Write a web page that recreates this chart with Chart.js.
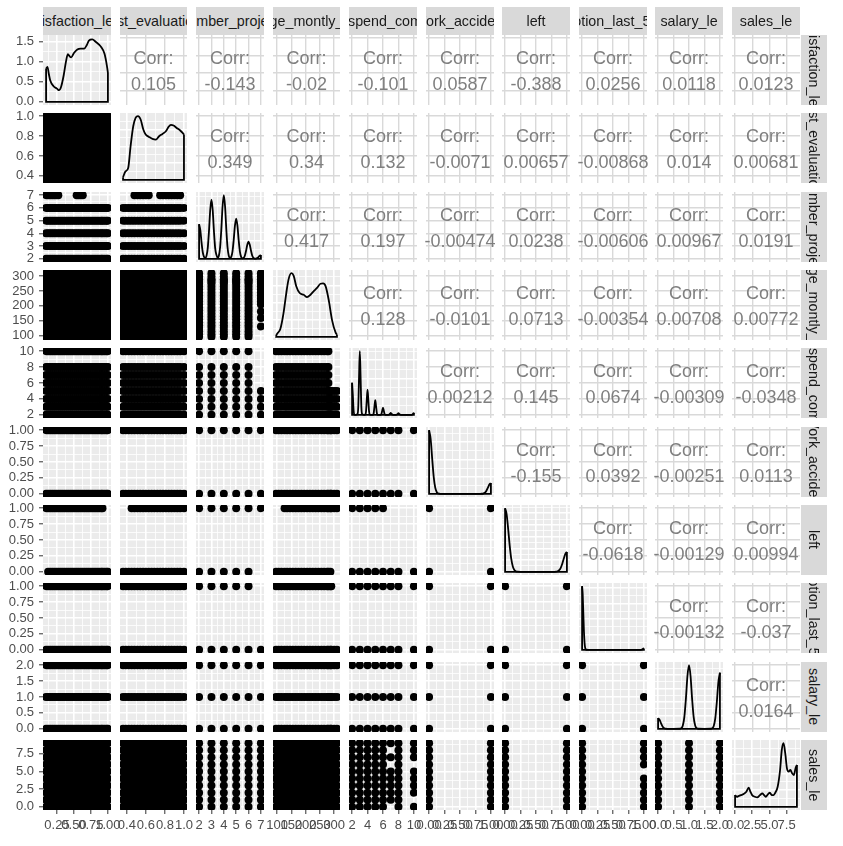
<!DOCTYPE html>
<html><head><meta charset="utf-8">
<script src="https://cdn.jsdelivr.net/npm/chart.js@4.4.1/dist/chart.umd.min.js"></script>
<style>
html,body{margin:0;padding:0;background:#fff;}
#wrap{position:relative;width:843px;height:846px;overflow:hidden;background:#fff;font-family:"Liberation Sans",Arial,sans-serif;}
canvas{position:absolute;}
.strip{position:absolute;background:#D9D9D9;overflow:hidden;display:flex;align-items:center;justify-content:center;color:#1A1A1A;font-size:14.3px;white-space:nowrap;}
.strip span{flex:none;}
.rstrip span{writing-mode:vertical-rl;}
.corr{position:absolute;display:flex;flex-direction:column;align-items:center;justify-content:center;color:#7F7F7F;font-size:18px;line-height:26px;white-space:nowrap;padding-top:2px;box-sizing:border-box;}
</style></head><body><div id="wrap"></div>
<script>
// ---------------- data ----------------
const varNames = ["satisfaction_level","last_evaluation","number_project","average_montly_hours","time_spend_company","Work_accident","left","promotion_last_5years","salary_le","sales_le"];
const varMin = [0.09, 0.36, 2, 96, 2, 0, 0, 0, 0, 0];
const varMax = [1.00, 1.00, 7, 310, 10, 1, 1, 1, 2, 9];
const varTicks = [
  [0.25,0.5,0.75,1.0],
  [0.4,0.6,0.8,1.0],
  [2,3,4,5,6,7],
  [100,150,200,250,300],
  [2,4,6,8,10],
  [0,0.25,0.5,0.75,1],
  [0,0.25,0.5,0.75,1],
  [0,0.25,0.5,0.75,1],
  [0,0.5,1,1.5,2],
  [0,2.5,5,7.5]
];
const tickDecimals = [2,1,0,0,0,2,2,2,1,1];

// observed value levels of each variable
const satLevels = [0.09,0.12,0.15,0.18,0.21,0.24,0.27,0.30,0.33,0.36,0.39,0.42,0.45,0.48,0.51,0.54,0.57,0.60,0.63,0.66,0.69,0.72,0.75,0.78,0.81,0.84,0.87,0.90,0.92,0.95,0.98,1.00];
const evalLevels = [0.36,0.39,0.42,0.45,0.48,0.51,0.54,0.57,0.60,0.63,0.66,0.69,0.72,0.75,0.78,0.81,0.84,0.87,0.90,0.93,0.96,1.00];
const projectLevels = [2,3,4,5,6,7];
const hoursLevels = [96,105,115,126,135,145,155,165,175,185,195,205,215,225,235,245,255,265,275,280,287,290,300,310];
const timeLevels = [2,3,4,5,6,7,8,10];
const binaryLevels = [0,1];
const salaryLevels = [0,1,2];
const salesLevels = [0,1,2,3,4,5,6,7,8,9];
const levels = [satLevels, evalLevels, projectLevels, hoursLevels, timeLevels, binaryLevels, binaryLevels, binaryLevels, salaryLevels, salesLevels];

// where a pair of variables does not cover every combination
const panelRules = [
  {row:2,col:0,fix:'y',at:7,keep:[[0.09,0.28],[0.53,0.65]]},
  {row:2,col:1,fix:'y',at:7,keep:[[0.46,0.63],[0.74,0.97]]},
  {row:3,col:2,fix:'x',at:7,keep:[[200,310]]},
  {row:4,col:2,fix:'y',at:10,keep:[[2,6]]},
  {row:4,col:2,fix:'x',at:7,keep:[[2,5]]},
  {row:4,col:3,fix:'y',at:6,keep:[[96,280]]},
  {row:4,col:3,fix:'y',at:7,keep:[[96,280]]},
  {row:4,col:3,fix:'y',at:8,keep:[[96,280]]},
  {row:4,col:3,fix:'y',at:10,keep:[[96,280]]},
  {row:6,col:0,fix:'y',at:1,keep:[[0.09,0.92]]},
  {row:6,col:0,fix:'y',at:0,keep:[[0.12,1.0]]},
  {row:6,col:1,fix:'y',at:1,keep:[[0.45,1.0]]},
  {row:6,col:2,fix:'y',at:0,keep:[[2,6]]},
  {row:6,col:3,fix:'y',at:1,keep:[[126,310]]},
  {row:6,col:3,fix:'y',at:0,keep:[[96,287]]},
  {row:6,col:4,fix:'y',at:1,keep:[[2,6]]},
  {row:7,col:2,fix:'y',at:1,keep:[[2,6]]},
  {row:7,col:3,fix:'y',at:1,keep:[[96,290]]},
  {row:9,col:4,fix:'x',at:7,keep:[[1,5],[7,7],[9,9]]},
  {row:9,col:4,fix:'x',at:10,keep:[[0,0],[2,5],[7,9]]},
  {row:9,col:7,fix:'x',at:1,keep:[[0,4],[6,9]]}
];
const extraPoints = [{row:3,col:2,pts:[[7,181],[7,159],[7,131]]}];

// density curves on the diagonal  [x, density]
const densSat = [[0.09,0.83],[0.11,0.875],[0.13,0.70],[0.15,0.54],[0.20,0.39],[0.25,0.33],[0.28,0.29],[0.31,0.37],[0.35,0.67],[0.38,0.98],[0.41,1.19],[0.44,1.13],[0.46,1.11],[0.50,1.22],[0.55,1.31],[0.60,1.33],[0.65,1.33],[0.69,1.42],[0.72,1.53],[0.77,1.56],[0.82,1.50],[0.90,1.37],[0.95,1.20],[0.99,0.85],[1.0,0.72]];
const densEval = [[0.36,0.08],[0.386,0.25],[0.414,0.35],[0.439,1.0],[0.467,1.6],[0.492,1.85],[0.517,1.9],[0.545,1.8],[0.573,1.5],[0.598,1.35],[0.633,1.28],[0.669,1.22],[0.704,1.2],[0.739,1.3],[0.774,1.37],[0.81,1.45],[0.838,1.58],[0.863,1.64],[0.891,1.62],[0.923,1.55],[0.958,1.48],[0.986,1.40],[1.0,1.35]];
const densProject = [[2,0.39],[2.1,0.322],[2.2,0.182],[2.3,0.071],[2.4,0.022],[2.5,0.009],[2.6,0.034],[2.7,0.12],[2.8,0.311],[2.9,0.549],[3,0.665],[3.1,0.549],[3.2,0.311],[3.3,0.121],[3.4,0.045],[3.5,0.012],[3.6,0.035],[3.7,0.13],[3.8,0.335],[3.9,0.591],[4,0.716],[4.1,0.591],[4.2,0.335],[4.3,0.13],[4.4,0.035],[4.5,0.01],[4.6,0.022],[4.7,0.082],[4.8,0.212],[4.9,0.374],[5,0.453],[5.1,0.374],[5.2,0.212],[5.3,0.082],[5.4,0.022],[5.5,0.006],[5.6,0.01],[5.7,0.035],[5.8,0.09],[5.9,0.159],[6,0.193],[6.1,0.159],[6.2,0.09],[6.3,0.035],[6.4,0.01],[6.5,0.002],[6.6,0.002],[6.7,0.008],[6.8,0.02],[6.9,0.035],[7,0.042]];
const densHours = [[96,0.02],[99,0.08],[111,0.23],[122,0.68],[132,1.28],[140,1.68],[150,1.86],[158,1.78],[167,1.48],[179,1.28],[193,1.23],[205,1.16],[217,1.23],[228,1.33],[240,1.43],[252,1.55],[261,1.56],[270,1.48],[281,1.08],[293,0.48],[305,0.13],[310,0.06]];
const densTime = [[2,0.88],[2.1,0.52],[2.2,0.11],[2.3,0.01],[2.5,0],[2.7,0.02],[2.8,0.22],[2.9,1.04],[3,1.75],[3.1,1.04],[3.2,0.22],[3.3,0.02],[3.5,0],[3.7,0.01],[3.8,0.09],[3.9,0.41],[4,0.69],[4.1,0.41],[4.2,0.09],[4.3,0.01],[4.5,0],[4.7,0],[4.8,0.05],[4.9,0.24],[5,0.40],[5.1,0.24],[5.2,0.05],[5.3,0],[5.5,0],[5.7,0],[5.8,0.025],[5.9,0.115],[6,0.195],[6.1,0.115],[6.2,0.025],[6.3,0],[6.5,0],[6.7,0],[6.8,0.006],[6.9,0.03],[7,0.05],[7.1,0.03],[7.2,0.006],[7.3,0],[7.5,0],[7.7,0],[7.8,0.006],[7.9,0.027],[8,0.045],[8.1,0.027],[8.2,0.006],[8.3,0],[9,0],[9.7,0],[9.8,0.007],[9.9,0.034],[10,0.057]];
const densAccident = [[0,7.4],[0.025,6.39],[0.05,4.1],[0.075,1.95],[0.1,0.70],[0.125,0.185],[0.15,0.037],[0.175,0.005],[0.25,0],[0.5,0],[0.75,0],[0.825,0.001],[0.85,0.006],[0.875,0.031],[0.9,0.118],[0.925,0.33],[0.95,0.69],[0.975,1.08],[1,1.25]];
const densLeft = [[0,5.43],[0.025,4.91],[0.05,3.64],[0.075,2.22],[0.1,1.10],[0.125,0.45],[0.15,0.15],[0.175,0.04],[0.2,0.01],[0.25,0],[0.5,0],[0.75,0],[0.8,0.003],[0.825,0.013],[0.85,0.048],[0.875,0.14],[0.9,0.345],[0.925,0.69],[0.95,1.14],[0.975,1.54],[1,1.70]];
const densPromotion = [[0,20.65],[0.01,17.9],[0.02,11.8],[0.03,5.86],[0.04,2.2],[0.05,0.62],[0.06,0.13],[0.07,0.02],[0.1,0],[0.5,0],[0.9,0],[0.94,0.003],[0.95,0.014],[0.96,0.048],[0.97,0.128],[0.98,0.257],[0.99,0.39],[1,0.45]];
const densSalary = [[0,0.40],[0.05,0.332],[0.1,0.19],[0.15,0.075],[0.2,0.02],[0.25,0.004],[0.3,0],[0.5,0],[0.7,0.003],[0.75,0.023],[0.8,0.121],[0.85,0.446],[0.9,1.126],[0.95,1.967],[1,2.37],[1.05,1.967],[1.1,1.126],[1.15,0.446],[1.2,0.121],[1.25,0.023],[1.3,0.003],[1.5,0],[1.7,0.0025],[1.75,0.02],[1.8,0.107],[1.85,0.393],[1.9,0.993],[1.95,1.735],[2,2.09]];
const densSales = [[0,0.35],[0.25,0.30],[0.5,0.32],[0.84,0.35],[1.24,0.38],[1.64,0.45],[1.98,0.57],[2.23,0.45],[2.48,0.35],[2.88,0.30],[3.22,0.28],[3.62,0.35],[3.97,0.40],[4.22,0.35],[4.46,0.30],[4.81,0.38],[5.06,0.42],[5.36,0.35],[5.61,0.35],[5.85,0.42],[6.2,0.60],[6.55,1.10],[6.8,1.70],[7.05,1.90],[7.3,1.60],[7.55,1.15],[7.8,1.05],[8.05,1.10],[8.3,1.00],[8.55,0.95],[8.8,1.15],[9.0,1.25]];
const densities = [densSat, densEval, densProject, densHours, densTime, densAccident, densLeft, densPromotion, densSalary, densSales];
const densTop = [1.59, 1.9, 0.716, 1.86, 1.75, 7.4, 5.43, 20.65, 2.37, 1.9];
const densTicks = [[0,0.5,1,1.5],[0,0.5,1,1.5],[0,0.2,0.4,0.6],[0,0.5,1,1.5],[0,0.5,1,1.5],[0,2,4,6],[0,1,2,3,4,5],[0,5,10,15,20],[0,0.5,1,1.5,2],[0,0.5,1,1.5]];

// correlations (upper triangle, row by row)
const corrSat = [0.105,-0.143,-0.02,-0.101,0.0587,-0.388,0.0256,0.0118,0.0123];
const corrEval = [0.349,0.34,0.132,-0.0071,0.00657,-0.00868,0.014,0.00681];
const corrProject = [0.417,0.197,-0.00474,0.0238,-0.00606,0.00967,0.0191];
const corrHours = [0.128,-0.0101,0.0713,-0.00354,0.00708,0.00772];
const corrTime = [0.00212,0.145,0.0674,-0.00309,-0.0348];
const corrAccident = [-0.155,0.0392,-0.00251,0.0113];
const corrLeft = [-0.0618,-0.00129,0.00994];
const corrPromotion = [-0.00132,-0.037];
const corrSalary = [0.0164];
const corrRows = [corrSat, corrEval, corrProject, corrHours, corrTime, corrAccident, corrLeft, corrPromotion, corrSalary];

// ---------------- layout ----------------
const N = 10;
const X0 = 43, DX = 76.55, PW = 67.8, Y0 = 35, DY = 78.33, PH = 70, M = 16;
const FULL_W = 843, FULL_H = 846;
const colL = j => Math.round(X0 + j*DX), colR = j => Math.round(X0 + j*DX + PW);
const rowT = i => Math.round(Y0 + i*DY), rowB = i => Math.round(Y0 + i*DY + PH);
const FONT = '"Liberation Sans", Arial, sans-serif';
const wrap = document.getElementById('wrap');

const bgPlugin = {
  id: 'panelBg',
  beforeDraw(chart, args, opts) {
    const a = chart.chartArea, c = chart.ctx;
    c.save(); c.fillStyle = opts.color;
    c.fillRect(a.left, a.top, a.right - a.left, a.bottom - a.top);
    c.restore();
  }
};

function varRange(v) { const d = (varMax[v] - varMin[v]) * 0.05; return [varMin[v] - d, varMax[v] + d]; }

function makeTicks(majors, min, max, withMinor) {
  const t = majors.filter(v => v >= min - 1e-9 && v <= max + 1e-9).map(v => ({value: v}));
  if (withMinor) {
    const step = majors[1] - majors[0];
    const ext = [majors[0] - step].concat(majors, [majors[majors.length-1] + step]);
    for (let k = 0; k < ext.length - 1; k++) {
      const m = (ext[k] + ext[k+1]) / 2;
      if (m > min && m < max) t.push({value: m, minor: true});
    }
  }
  t.sort((a, b) => a.value - b.value);
  return t;
}

function axisCfg(kind, range, majors, showLabels, dec, size, isX) {
  const minor = kind !== 'upper';
  return {
    type: 'linear', min: range[0], max: range[1], bounds: 'data',
    border: {display: false},
    grid: {
      color: () => kind === 'upper' ? '#D9D9D9' : '#FFFFFF',
      lineWidth: ctx => (ctx.tick && ctx.tick.minor) ? 0.8 : (kind === 'upper' ? 1.4 : 1.6),
      drawTicks: showLabels, tickLength: 4, tickWidth: 1,
      tickColor: ctx => (ctx.tick && ctx.tick.minor) ? 'rgba(0,0,0,0)' : '#333333'
    },
    ticks: {
      display: showLabels, autoSkip: false, maxRotation: 0, minRotation: 0,
      padding: isX ? 4 : 5, color: '#4D4D4D', font: {family: FONT, size: 13},
      callback: (v, idx, ticks) => (ticks[idx] && ticks[idx].minor) ? '' : Number(v).toFixed(dec)
    },
    afterBuildTicks: s => { s.ticks = makeTicks(majors, range[0], range[1], minor); },
    afterFit: s => {
      if (isX) { s.paddingLeft = 0; s.paddingRight = 0; if (showLabels) s.height = size; }
      else { s.paddingTop = 0; s.paddingBottom = 0; if (showLabels) s.width = size; }
    }
  };
}

function scatterPoints(r, c) {
  const rules = panelRules.filter(q => q.row === r && q.col === c);
  const pts = [];
  for (const xv of levels[c]) for (const yv of levels[r]) {
    let ok = true;
    for (const q of rules) {
      const fixedVal = q.fix === 'y' ? yv : xv;
      const other = q.fix === 'y' ? xv : yv;
      if (Math.abs(fixedVal - q.at) < 1e-9 && !q.keep.some(([a, b]) => other >= a - 1e-9 && other <= b + 1e-9)) ok = false;
    }
    if (ok) pts.push({x: xv, y: yv});
  }
  extraPoints.filter(e => e.row === r && e.col === c).forEach(e => e.pts.forEach(p => pts.push({x: p[0], y: p[1]})));
  return pts;
}

function makePanel(i, j) {
  const kind = i === j ? 'diag' : (i > j ? 'lower' : 'upper');
  const pl = colL(j), pr = colR(j), pt = rowT(i), pb = rowB(i);
  const showY = j === 0, showX = i === N - 1;
  const left = showY ? 0 : pl - M;
  const top = pt - M;
  const right = pr + M;
  const bottom = showX ? FULL_H : pb + M;
  const axisW = pl, axisH = FULL_H - pb;
  const cv = document.createElement('canvas');
  cv.width = right - left; cv.height = bottom - top;
  cv.style.left = left + 'px'; cv.style.top = top + 'px';
  cv.style.width = (right - left) + 'px'; cv.style.height = (bottom - top) + 'px';
  wrap.appendChild(cv);

  const xr = varRange(j);
  let yr, yMaj, yDec;
  if (kind === 'diag') {
    yr = [-0.05 * densTop[i], 1.05 * densTop[i]];
    yMaj = densTicks[i]; yDec = 1;
  } else {
    yr = varRange(i); yMaj = varTicks[i]; yDec = tickDecimals[i];
  }

  let datasets = [];
  if (kind === 'lower') {
    datasets.push({data: scatterPoints(i, j), pointRadius: 4, pointBackgroundColor: '#000000',
      pointBorderWidth: 0, pointBorderColor: '#000000', showLine: false, clip: 0});
  } else if (kind === 'diag') {
    const d = densities[i];
    const first = d[0], last = d[d.length - 1];
    datasets.push({data: d.map(p => ({x: p[0], y: p[1]})), showLine: true, borderColor: '#000000',
      borderWidth: 1.8, pointRadius: 0, cubicInterpolationMode: 'monotone', fill: false, clip: 0});
    datasets.push({data: [{x: first[0], y: first[1]}, {x: first[0], y: 0}, {x: last[0], y: 0}, {x: last[0], y: last[1]}],
      showLine: true, borderColor: '#000000', borderWidth: 1.8, pointRadius: 0, tension: 0, fill: false, clip: 0});
  } else {
    datasets.push({data: [], pointRadius: 0});
  }

  new Chart(cv, {
    type: 'scatter',
    data: {datasets},
    options: {
      responsive: false, animation: false, events: [],
      layout: {padding: {left: showY ? 0 : M, right: M, top: M, bottom: showX ? 0 : M}},
      plugins: {legend: {display: false}, tooltip: {enabled: false},
        panelBg: {color: kind === 'upper' ? '#FFFFFF' : '#EBEBEB'}},
      scales: {
        x: axisCfg(kind, xr, varTicks[j], showX, tickDecimals[j], axisH, true),
        y: axisCfg(kind, yr, yMaj, showY, yDec, axisW, false)
      }
    },
    plugins: [bgPlugin]
  });

  if (kind === 'upper') {
    const d = document.createElement('div');
    d.className = 'corr';
    d.style.left = pl + 'px'; d.style.top = pt + 'px';
    d.style.width = (pr - pl) + 'px'; d.style.height = (pb - pt) + 'px';
    const a = document.createElement('div'); a.textContent = 'Corr:';
    const b = document.createElement('div'); b.textContent = String(corrRows[i][j - i - 1]);
    d.appendChild(a); d.appendChild(b);
    wrap.appendChild(d);
  }
}

for (let i = 0; i < N; i++) for (let j = 0; j < N; j++) makePanel(i, j);

// strips
for (let j = 0; j < N; j++) {
  const s = document.createElement('div');
  s.className = 'strip';
  s.style.left = colL(j) + 'px'; s.style.top = '7px';
  s.style.width = (colR(j) - colL(j)) + 'px'; s.style.height = '28px';
  const sp = document.createElement('span'); sp.textContent = varNames[j];
  s.appendChild(sp); wrap.appendChild(s);
}
for (let i = 0; i < N; i++) {
  const s = document.createElement('div');
  s.className = 'strip rstrip';
  s.style.left = '801px'; s.style.top = rowT(i) + 'px';
  s.style.width = '26px'; s.style.height = (rowB(i) - rowT(i)) + 'px';
  const sp = document.createElement('span'); sp.textContent = varNames[i];
  s.appendChild(sp); wrap.appendChild(s);
}
</script></body></html>
